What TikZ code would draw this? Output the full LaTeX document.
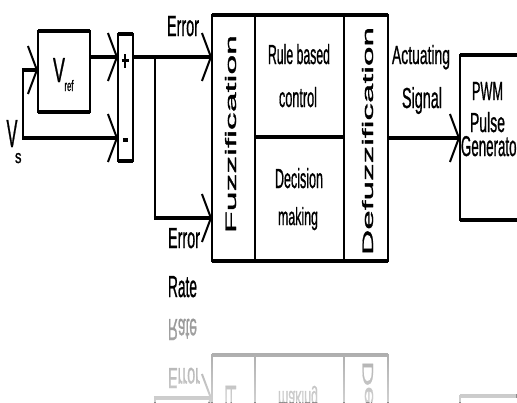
\documentclass[tikz,border=0pt]{standalone}
\usepackage{fontspec}
\setmainfont{Liberation Sans}[BoldFont=Liberation Sans, BoldFeatures={FakeBold=1.2}]
\usetikzlibrary{arrows.meta,fadings}
\newcommand{\tx}[3]{\resizebox{#1pt}{#2pt}{\bfseries #3}}
\tikzset{
  hl/.style={line width=4.5pt},
  vl/.style={line width=2.2pt},
  chev/.style={-{Straight Barb[length=9pt,width=48pt,line width=2pt 0]}},
  lbl/.style={inner sep=0pt, outer sep=0pt, anchor=base west},
  rlbl/.style={inner sep=0pt, outer sep=0pt, anchor=base west, rotate=90},
  blk/.style={draw, vl, inner sep=0pt, outer sep=0pt, anchor=north west},
}
\newcommand{\thickTB}[1]{%
  \draw[hl] (#1.north west) -- (#1.north east);
  \draw[hl] (#1.south west) -- (#1.south east);}
\newcommand{\diagram}{%
  % blocks
  \node[blk, minimum width=52pt, minimum height=81pt] (vref) at (38,31) {};
  \thickTB{vref}
  \node[blk, minimum width=15pt, minimum height=127pt] (sum) at (118,34) {};
  \thickTB{sum}
  \node[blk, minimum width=176pt, minimum height=246pt] (main) at (212,15) {};
  \thickTB{main}
  \node[blk, minimum width=70pt, minimum height=165pt] (pwm) at (460,55) {};
  \thickTB{pwm}
  % inner dividers
  \coordinate (d1t) at (255,15); \coordinate (d1b) at (255,261);
  \coordinate (d2t) at (344,15); \coordinate (d2b) at (344,261);
  \draw[vl] (d1t) -- (d1b);
  \draw[vl] (d2t) -- (d2b);
  \coordinate (mid) at (0,137);
  \draw[hl] (d1t |- mid) -- (d2t |- mid);
  % plus / minus
  \coordinate (pt) at (125,54); \coordinate (pb) at (125,68);
  \coordinate (pl) at (121.5,60.5); \coordinate (pr) at (128.5,60.5);
  \draw[vl] (pt) -- (pb);
  \draw[line width=2.5pt] (pl) -- (pr);
  \coordinate (ml) at (122.8,139.5); \coordinate (mr) at (128.2,139.5);
  \draw[line width=4pt] (ml) -- (mr);
  % connectors
  \coordinate (vs) at (22,138);
  \coordinate (br0) at (23,139);
  \coordinate (br1) at (23,68);
  \coordinate (br2) at (21.9,70);
  \draw[vl] (br0) -- (br1);
  \draw[hl,chev] (br2) -- (br2 -| vref.west);
  \draw[hl,chev] (vs) -- (vs -| sum.west);
  \coordinate (e) at (0,57);
  \draw[hl,chev] (vref.east |- e) -- (sum.west |- e);
  \draw[hl,chev] (sum.east |- e) -- (main.west |- e);
  \coordinate (j1) at (155,55);
  \coordinate (j2) at (155,220);
  \coordinate (j3) at (153.9,218);
  \draw[vl] (j1) -- (j2);
  \draw[hl,chev] (j3) -- (j3 -| main.west);
  \coordinate (o) at (0,138);
  \draw[hl,chev] (main.east |- o) -- (pwm.west |- o);
  % labels
  \node[lbl] (vrV) at (53,82) {\tx{12}{24}{V}};
  \node[lbl] (vrS) at (64.5,91) {\tx{9}{11}{ref}};
  \node[lbl] (vsV) at (6.5,147) {\tx{11}{27}{V}};
  \node[lbl] (vsS) at (15,163) {\tx{6.5}{10}{s}};
  \node[lbl] (err1) at (167,36) {\tx{32}{20}{Error}};
  \node[lbl] (err2) at (168,248) {\tx{32}{20}{Error}};
  \node[lbl] (rate) at (168,297) {\tx{29}{21}{Rate}};
  \node[lbl] (rb1) at (268,64) {\tx{62}{20}{Rule based}};
  \node[lbl] (rb2) at (279,107) {\tx{38}{20}{control}};
  \node[lbl] (dm1) at (275,188) {\tx{48}{20}{Decision}};
  \node[lbl] (dm2) at (278,225) {\tx{40}{18}{making}};
  \node[lbl] (act1) at (392,64) {\tx{58}{19}{Actuating}};
  \node[lbl] (act2) at (402,108) {\tx{40}{21}{Signal}};
  \node[lbl] (pw1) at (472,100) {\tx{31}{18}{PWM}};
  \node[lbl] (pw2) at (470,132) {\tx{35}{20}{Pulse}};
  \node[lbl] (pw3) at (461,156) {\tx{60}{20}{Generator}};
  \node[rlbl] (fuz) at (236,233) {\tx{198}{11}{Fuzzification}};
  \node[rlbl] (defuz) at (373,255) {\tx{228}{11}{Defuzzification}};
}
\begin{document}
\begin{tikzpicture}[x=1pt,y=-1pt]
\useasboundingbox (0,0) rectangle (517,402);
\clip (0,0) rectangle (517,402);
\diagram
\begin{scope}
  \clip (0,303) rectangle (517,402);
  \begin{scope}[shift={(0,616)}, yscale=-1, transform shape, black!45]
    \diagram
  \end{scope}
  \fill[white, path fading=north, fill opacity=0.6] (0,303) rectangle (517,402);
\end{scope}
\end{tikzpicture}
\end{document}
